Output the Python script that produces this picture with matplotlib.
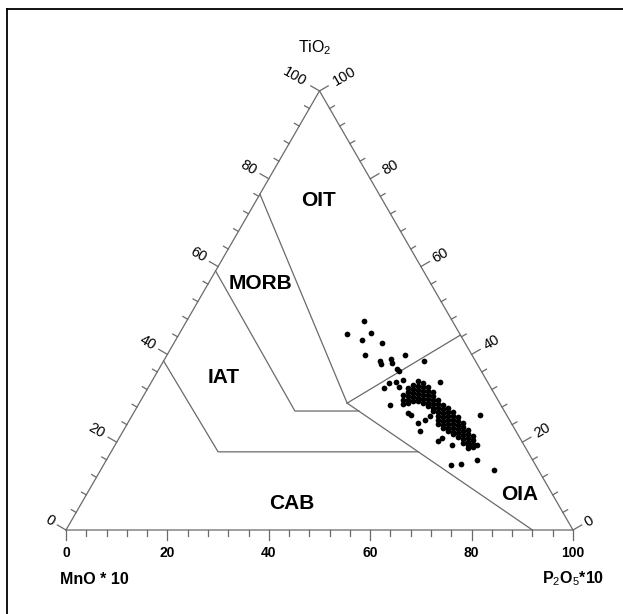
import numpy as np
import matplotlib
matplotlib.use("Agg")
import matplotlib.pyplot as plt
from matplotlib.lines import Line2D

plt.rcParams["font.family"] = ["Liberation Sans", "DejaVu Sans"]
plt.rcParams["mathtext.fontset"] = "custom"
plt.rcParams["mathtext.rm"] = "Liberation Sans"
plt.rcParams["mathtext.it"] = "Liberation Sans:italic"
plt.rcParams["mathtext.bf"] = "Liberation Sans:bold"

# ---------------------------------------------------------------------------
# Data: TiO2 and P2O5*10 in percent of the sum; MnO*10 is the remainder
# ---------------------------------------------------------------------------

# scattered samples around the main cluster
outlier_tio2 = [47.7, 44.6, 44.9, 43.3, 42.5, 39.8, 39.8, 38.5, 37.7, 38.9,
                38.0, 36.7, 36.2, 38.6, 33.6, 32.3, 33.4, 33.8, 34.2, 32.5,
                28.4, 26.1, 13.6, 14.8, 15.0, 15.9, 20.3, 22.5, 26.6, 26.2,
                19.8, 18.7, 19.4, 19.4, 21.0, 25.1, 24.4, 26.0]
outlier_p2o5 = [35.0, 33.2, 37.8, 36.8, 41.0, 39.1, 47.0, 42.7, 43.2, 44.7,
                45.3, 47.0, 47.6, 51.3, 56.9, 46.6, 47.1, 48.1, 49.3, 49.4,
                49.7, 68.6, 77.7, 68.5, 70.4, 73.1, 63.3, 58.5, 54.2, 55.0,
                68.4, 69.9, 71.4, 66.4, 63.7, 58.3, 57.2, 58.8]

# dense cluster, read column by column
cluster_tio2 = [30.7, 29.6, 28.7,
                32.3, 31.4, 30.5, 29.6, 28.9,
                33.0, 32.1, 31.2, 30.3, 29.4,
                33.9, 32.8, 31.9, 31.0, 30.1, 29.4,
                33.5, 32.6, 31.7, 30.7, 29.8, 28.9,
                32.6, 31.7, 30.7, 29.8, 28.9, 28.2,
                31.4, 30.5, 29.6, 28.7, 27.8, 27.1,
                29.6, 28.7, 27.8, 26.9, 26.0, 25.1, 24.1,
                28.5, 27.6, 26.6, 25.7, 24.8, 23.9, 23.2,
                27.8, 26.9, 26.0, 25.1, 24.1, 23.2, 22.5,
                26.9, 26.0, 25.1, 24.1, 23.2, 22.3, 21.9,
                25.7, 24.8, 23.9, 23.0, 22.1, 21.2,
                24.4, 23.5, 22.5, 21.6, 20.7,
                22.8, 21.9, 21.0, 20.0, 19.4,
                21.4, 20.5, 19.6, 18.9]
cluster_p2o5 = [51.1, 51.7, 52.1,
                51.3, 51.7, 52.2, 52.6, 53.0,
                51.9, 52.4, 52.8, 53.3, 53.7,
                52.4, 53.0, 53.5, 53.9, 54.4, 54.7,
                53.7, 54.1, 54.6, 55.0, 55.5, 55.9,
                55.1, 55.6, 56.0, 56.5, 56.9, 57.3,
                56.7, 57.1, 57.6, 58.0, 58.5, 58.8,
                58.6, 59.0, 59.5, 59.9, 60.4, 60.8, 61.3,
                60.1, 60.6, 61.0, 61.5, 61.9, 62.4, 62.7,
                61.4, 61.9, 62.4, 62.8, 63.3, 63.7, 64.1,
                62.9, 63.3, 63.8, 64.3, 64.7, 65.2, 65.4,
                64.4, 64.9, 65.3, 65.8, 66.3, 66.7,
                66.1, 66.6, 67.0, 67.5, 67.9,
                67.9, 68.3, 68.8, 69.3, 69.6,
                69.6, 70.0, 70.5, 70.8]

# field boundaries as (TiO2, P2O5*10) vertices
oit_morb = [(76.5, 0.0), (28.9, 41.0)]
morb_iat = [(59.0, 0.0), (27.1, 31.6), (27.1, 44.2)]
iat_cab = [(38.5, 0.0), (17.8, 21.1), (17.8, 60.6)]
oit_oia = [(28.9, 41.0), (44.4, 55.6)]
oia_cab = [(28.9, 41.0), (0.0, 92.0)]

field_names = ["OIT", "MORB", "IAT", "CAB", "OIA"]
field_tio2 = [75.1, 56.2, 34.8, 6.1, 8.0]
field_p2o5 = [12.3, 10.2, 13.7, 41.5, 85.5]

tick_values = list(range(0, 101, 4))
label_values = [0, 20, 40, 60, 80, 100]

# ---------------------------------------------------------------------------
# Geometry
# ---------------------------------------------------------------------------
S = np.sqrt(3) / 2
PX = 1 / 507.0  # one pixel in data units
LINE = "#6a6a6a"


def to_xy(tio2, p2o5):
    t = np.asarray(tio2, float) / 100
    p = np.asarray(p2o5, float) / 100
    return p + t / 2, t * S


fig = plt.figure(figsize=(6.23, 6.14), dpi=100)
ax = fig.add_axes([0, 0, 1, 1])
ax.set_xlim(-66 * PX, 557 * PX)
ax.set_ylim(-84 * PX, 530 * PX)
ax.axis("off")

# triangle outline
ax.plot([0, 1, 0.5, 0], [0, 0, S, 0], color=LINE, lw=0.9, solid_joinstyle="miter")

# field boundaries
for line in (oit_morb, morb_iat, iat_cab, oit_oia, oia_cab):
    t, p = zip(*line)
    x, y = to_xy(t, p)
    ax.plot(x, y, color=LINE, lw=0.9)

# ticks and tick labels
minor_len, major_len = 5.5 * PX, 10 * PX
left_n = np.array([-S, 0.5])
right_n = np.array([S, 0.5])
for v in tick_values:
    major = v % 20 == 0
    L = major_len if major else minor_len
    # bottom axis
    bx, by = to_xy(0, v)
    ax.plot([bx, bx], [by, by - L], color=LINE, lw=0.9)
    # left axis
    lx, ly = to_xy(v, 0)
    ax.plot([lx, lx + left_n[0] * L], [ly, ly + left_n[1] * L], color=LINE, lw=0.9)
    # right axis
    rx, ry = to_xy(v, 100 - v)
    ax.plot([rx, rx + right_n[0] * L], [ry, ry + right_n[1] * L], color=LINE, lw=0.9)

for v in label_values:
    txt = str(v)
    off = {1: 18, 2: 23, 3: 29}[len(txt)] * PX
    bx, by = to_xy(0, v)
    ax.text(bx, by - 23 * PX, txt, ha="center", va="center", fontsize=10,
            fontweight="bold")
    lx, ly = to_xy(v, 0)
    ax.text(lx + left_n[0] * off, ly + left_n[1] * off, txt, rotation=-30,
            rotation_mode="anchor", ha="center", va="center", fontsize=10.5)
    rx, ry = to_xy(v, 100 - v)
    ax.text(rx + right_n[0] * off, ry + right_n[1] * off, txt, rotation=30,
            rotation_mode="anchor", ha="center", va="center", fontsize=10.5)

# samples
ox, oy = to_xy(outlier_tio2, outlier_p2o5)
cx, cy = to_xy(cluster_tio2, cluster_p2o5)
ax.scatter(np.r_[ox, cx], np.r_[oy, cy], s=17, c="black", linewidths=0, zorder=5)

# field names
for name, t, p in zip(field_names, field_tio2, field_p2o5):
    x, y = to_xy(t, p)
    ax.text(x, y, name, ha="center", va="center", fontsize=15, fontweight="bold")

# apex names
ax.text(249 * PX, 482 * PX, r"TiO$_2$", ha="center", va="center", fontsize=11.5)
ax.text(-6 * PX, -49 * PX, "MnO * 10", ha="left", va="center", fontsize=11.5,
        fontweight="bold")
ax.text(538 * PX, -49 * PX, r"P$_2$O$_5$*10", ha="right", va="center",
        fontsize=11.5, fontweight="bold")

# scanned page frame (top and left edges)
fig.add_artist(Line2D([7 / 623, 1], [1 - 9 / 614, 1 - 9 / 614], color="black", lw=1.3))
fig.add_artist(Line2D([7 / 623, 7 / 623], [0, 1 - 9 / 614], color="black", lw=1.3))

fig.savefig("out.png", dpi=100)
